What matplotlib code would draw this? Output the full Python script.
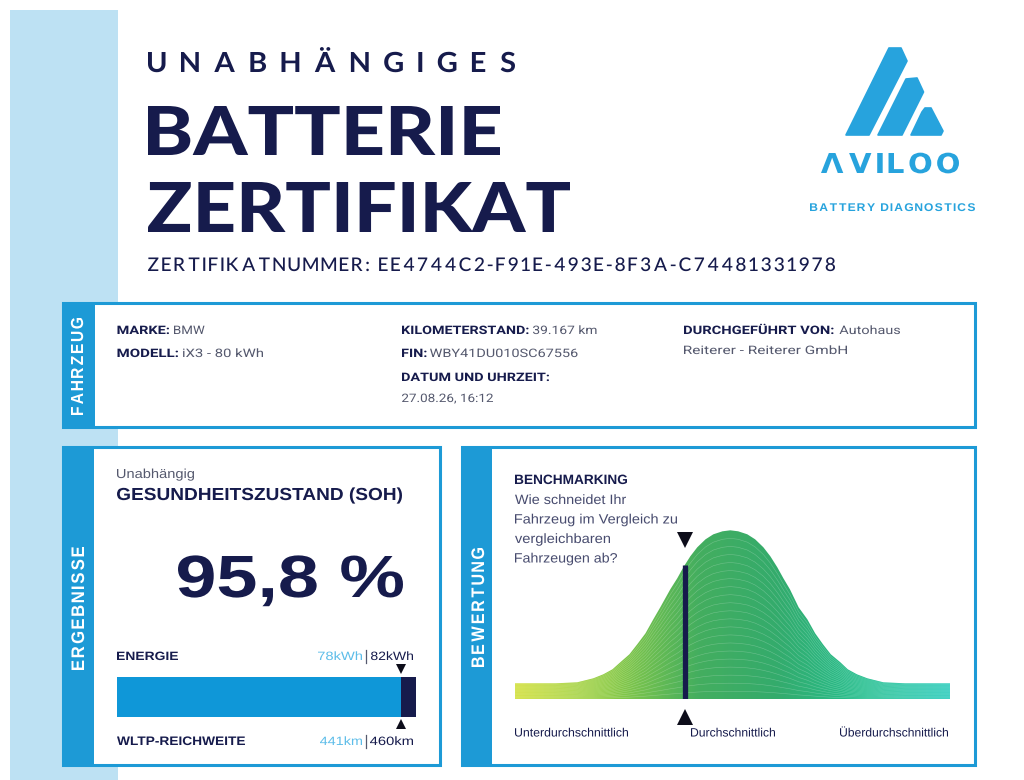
import numpy as np
import matplotlib
matplotlib.use("Agg")
import matplotlib.pyplot as plt
import matplotlib.transforms as mtransforms
from matplotlib.textpath import TextPath
from matplotlib.font_manager import FontProperties
from matplotlib.patches import PathPatch, Rectangle, Polygon
from matplotlib.path import Path
from matplotlib.colors import LinearSegmentedColormap

# ---- certificate data ----
make = "BMW"
model = "iX3 - 80 kWh"
mileage = "39.167 km"
vin = "WBY41DU010SC67556"
date_time = "27.08.26, 16:12"
performed_by = ["Autohaus", "Reiterer - Reiterer GmbH"]
cert_number = "EE4744C2-F91E-493E-8F3A-C74481331978"

soh = 95.8
energy_now, energy_nominal = 78, 82
range_now, range_nominal = 441, 460

# benchmark distribution (score 0..100, relative frequency)
bench_score = [0.0, 9.3, 14.3, 18.0, 20.3, 22.4, 24.2, 26.3, 28.1, 30.0, 31.8,
               33.4, 35.7, 37.3, 38.7, 40.3, 41.9, 43.8, 45.6, 47.7, 49.5,
               51.3, 53.4, 55.2, 57.1, 58.7, 60.3, 61.7, 63.2, 65.2, 67.2,
               69.0, 70.8, 72.6, 74.8, 76.5, 78.6, 81.0, 84.7, 89.7, 100.0]
bench_density = [16, 16, 17, 21, 25, 30, 37, 45, 55, 66, 80,
                 92, 110, 121, 132, 143, 152, 160, 165, 168, 169,
                 168, 165, 160, 152, 143, 132, 121, 110, 92, 80,
                 66, 55, 45, 37, 30, 25, 21, 17, 16, 16]
vehicle_score = 39.0
bench_labels = ["Unterdurchschnittlich", "Durchschnittlich", "Überdurchschnittlich"]

# ---- style ----
W, H = 1024, 780
NAVY = "#161b4c"
BLUE = "#1d9ad6"
BAR_BLUE = "#0f97d8"
LOGO = "#27a3dd"
STRIPE = "#bde1f3"
GRAY = "#55596e"
QGRAY = "#474b6e"
LIGHT = "#5dbde9"

fig = plt.figure(figsize=(W / 100, H / 100), dpi=100)
ax = fig.add_axes([0, 0, 1, 1])
ax.set_xlim(0, W)
ax.set_ylim(H, 0)
ax.axis("off")


def px_axes(x0, y0, x1, y1):
    return fig.add_axes([x0 / W, 1 - y1 / H, (x1 - x0) / W, (y1 - y0) / H])


def glyphs(s, fp, track=None):
    if track is None:
        tp = TextPath((0, 0), s, size=1, prop=fp)
        return tp.vertices.copy(), tp.codes.copy()
    vs, cs, pen = [], [], 0.0
    for ch in s:
        if ch == " ":
            pen += 0.22 + track
            continue
        tp = TextPath((0, 0), ch, size=1, prop=fp)
        e = tp.get_extents()
        v = tp.vertices.copy()
        v[:, 0] += pen - e.x0
        vs.append(v)
        cs.append(tp.codes)
        pen += e.width + 0.08 + track
    return np.vstack(vs), np.concatenate(cs)


def put(s, x0, x1, base, cap, fp, color=NAVY, track=None, vertical=False, z=6):
    # text drawn as a path, fitted to ink extent x0..x1 and cap height
    v, c = glyphs(s, fp, track)
    href = TextPath((0, 0), "H", size=1, prop=fp).get_extents().height
    e = Path(v, c).get_extents()
    sy = cap / href
    sx = abs(x1 - x0) / e.width
    u = (v[:, 0] - e.x0) * sx
    t = v[:, 1] * sy
    if vertical:
        xy = np.column_stack([base - t, x0 - u])
    else:
        xy = np.column_stack([x0 + u, base - t])
    ax.add_patch(PathPatch(Path(xy, c), fc=color, lw=0, zorder=z))


f_black = FontProperties(family="Lato", weight="black")
f_bold_lato = FontProperties(family="Lato", weight="bold")
f_med_lato = FontProperties(family="Lato", weight="medium")
f_logo = FontProperties(family="DejaVu Sans", weight="bold")
f_rb = FontProperties(family="Roboto", weight="bold")
f_rr = FontProperties(family="Roboto", weight="normal")
f_ab = FontProperties(family="Liberation Sans", weight="bold")
f_ar = FontProperties(family="Liberation Sans", weight="normal")

# ---- background ----
ax.add_patch(Rectangle((10, 10), 108, H, fc=STRIPE, lw=0, zorder=0.5))

# ---- header ----
put("UNABHÄNGIGES", 148, 515, 72, 20, f_bold_lato, track=0.45)
put("BATTERIE", 148, 500, 155, 49, f_black)
put("ZERTIFIKAT", 148, 570, 232, 50, f_black)
put("ZERTIFIKATNUMMER: " + cert_number, 148, 835, 271, 13.5, f_med_lato, track=0.12)

# logo
stripes = [
    [(846, 135), (869, 135), (907, 61), (901, 48), (889, 48)],
    [(878, 135), (902, 135), (923.5, 92), (917, 78), (906, 79)],
    [(911, 135), (941, 135), (943, 131), (931, 108), (925, 108), (922, 112)],
]
for pts in stripes:
    ax.add_patch(Polygon(pts, closed=True, fc=LOGO, ec=LOGO, lw=1.2,
                         joinstyle="round", zorder=4))
put("ΛVILOO", 821, 959, 173, 20, f_logo, color=LOGO, track=0.12)
put("BATTERY DIAGNOSTICS", 810, 975, 211, 7.7, f_ab, color=LOGO, track=0.1)

# ---- boxes ----
def box(x0, y0, x1, y1, bar_w):
    ax.add_patch(Rectangle((x0, y0), x1 - x0, y1 - y0, fc="white", ec=BLUE,
                           lw=2.2, zorder=2))
    ax.add_patch(Rectangle((x0, y0), bar_w, y1 - y0, fc=BLUE, lw=0, zorder=3))


box(63, 303, 975, 427, 32)
box(63, 447, 440, 765, 31)
box(462, 447, 975, 765, 30)

put("FAHRZEUG", 415, 318, 83, 12, f_ab, color="white", track=0.12, vertical=True)
put("ERGEBNISSE", 670, 547, 84, 12.5, f_ab, color="white", track=0.12, vertical=True)
put("BEWERTUNG", 667, 548, 484, 12.5, f_ab, color="white", track=0.12, vertical=True)

# vehicle info
info = [
    ("MARKE:", 117.5, 169, 334, f_rb, NAVY), (make, 174, 204.5, 334, f_rr, GRAY),
    ("MODELL:", 117.5, 178, 357, f_rb, NAVY), (model, 183, 263, 357, f_rr, GRAY),
    ("KILOMETERSTAND:", 402, 528.5, 334, f_rb, NAVY), (mileage, 533, 596.5, 334, f_rr, GRAY),
    ("FIN:", 402, 426.5, 357, f_rb, NAVY), (vin, 430, 577.5, 357, f_rr, GRAY),
    ("DATUM UND UHRZEIT:", 402, 549, 381, f_rb, NAVY),
    (date_time, 402, 493, 402, f_rr, GRAY),
    ("DURCHGEFÜHRT VON:", 684, 833.5, 334, f_rb, NAVY),
    (performed_by[0], 839.5, 900, 334, f_rr, GRAY),
    (performed_by[1], 684, 847, 354, f_rr, GRAY),
]
for s, x0, x1, base, fp, col in info:
    put(s, x0, x1, base, 8.3, fp, color=col)

# ---- results box ----
put("Unabhängig", 117, 194, 478, 9, f_ar, color=GRAY)
put("GESUNDHEITSZUSTAND (SOH)", 117, 402, 500, 12, f_ab)
soh_txt = f"{soh:.1f}".replace(".", ",") + " %"
put(soh_txt, 178, 403, 597, 41, f_ab)

put("ENERGIE", 117, 178, 660, 8.3, f_ab)
put(f"{energy_now}kWh", 318, 362, 660, 8.3, f_ar, color=LIGHT)
put(f"{energy_nominal}kWh", 371, 413, 660, 8.3, f_ar, color=NAVY)
put("WLTP-REICHWEITE", 117, 245, 745, 8.5, f_ab)
put(f"{range_now}km", 320, 362, 745, 8.3, f_ar, color=LIGHT)
put(f"{range_nominal}km", 370, 413, 745, 8.3, f_ar, color=NAVY)
# thin separators
ax.plot([366, 366], [650, 663], color=GRAY, lw=0.9, zorder=6)
ax.plot([365.5, 365.5], [735, 748], color=GRAY, lw=0.9, zorder=6)

ax_e = px_axes(117, 677, 416, 717)
ax_e.barh(0, energy_now, height=1, color=BAR_BLUE, lw=0)
ax_e.barh(0, energy_nominal - energy_now, left=energy_now, height=1,
          color=NAVY, lw=0)
ax_e.set_xlim(0, energy_nominal)
ax_e.set_ylim(-0.5, 0.5)
ax_e.axis("off")
tr_e = mtransforms.blended_transform_factory(ax_e.transData, ax_e.transAxes)
ax_e.plot(energy_now, 1.2, marker="v", ms=7.5, color="#0d0d1a", mew=0,
          transform=tr_e, clip_on=False)
ax_e.plot(energy_now, -0.17, marker="^", ms=7.5, color="#0d0d1a", mew=0,
          transform=tr_e, clip_on=False)

# ---- benchmark box ----
put("BENCHMARKING", 515, 627, 484, 9.3, f_ab)
question = [("Wie schneidet Ihr", 626, 504), ("Fahrzeug im Vergleich zu", 677, 523.5),
            ("vergleichbaren", 610, 543), ("Fahrzeugen ab?", 617, 562.5)]
for s, x1, base in question:
    put(s, 515, x1, base, 9.3, f_ar, color=QGRAY)

put(bench_labels[0], 515, 628, 736.5, 8.3, f_ar, color=NAVY)
put(bench_labels[1], 691, 775, 736.5, 8.3, f_ar, color=NAVY)
put(bench_labels[2], 840, 948, 736.5, 8.3, f_ar, color=NAVY)

peak = max(bench_density)
ax_b = px_axes(515, 699.3 - peak, 950, 699.3)
ax_b.set_xlim(0, 100)
ax_b.set_ylim(0, peak)
ax_b.axis("off")

cmap = LinearSegmentedColormap.from_list(
    "bench", [(0.0, "#cfdf30"), (0.22, "#8ccb46"), (0.42, "#44ae5f"),
              (0.6, "#34ab6c"), (0.8, "#26bf8f"), (1.0, "#22cab9")])
grad = np.linspace(0, 1, 256)[None, :]
im = ax_b.imshow(grad, extent=(0, 100, 0, peak), aspect="auto", cmap=cmap,
                 zorder=1)
verts = list(zip(bench_score, bench_density)) + [(100, 0), (0, 0)]
clip = Polygon(verts, closed=True, fc="none", ec="none")
ax_b.add_patch(clip)
im.set_clip_path(clip)

score = np.array(bench_score)
dens = np.array(bench_density, dtype=float)
n_lines = 21
for k in range(1, n_lines):
    ax_b.plot(score, dens * k / n_lines, color="white", lw=0.4, alpha=0.25,
              zorder=2)

top = np.interp(vehicle_score, score, dens)
ax_b.vlines(vehicle_score, 0, top, color=NAVY, lw=3.8, zorder=3)
tr_b = mtransforms.blended_transform_factory(ax_b.transData, ax_b.transAxes)
ax_b.plot(vehicle_score, 0.945, marker="v", ms=11, color="#0d0d1a", mew=0,
          transform=tr_b, clip_on=False)
ax_b.plot(vehicle_score, -0.105, marker="^", ms=11, color="#0d0d1a", mew=0,
          transform=tr_b, clip_on=False)

fig.savefig("out.png", dpi=100)
